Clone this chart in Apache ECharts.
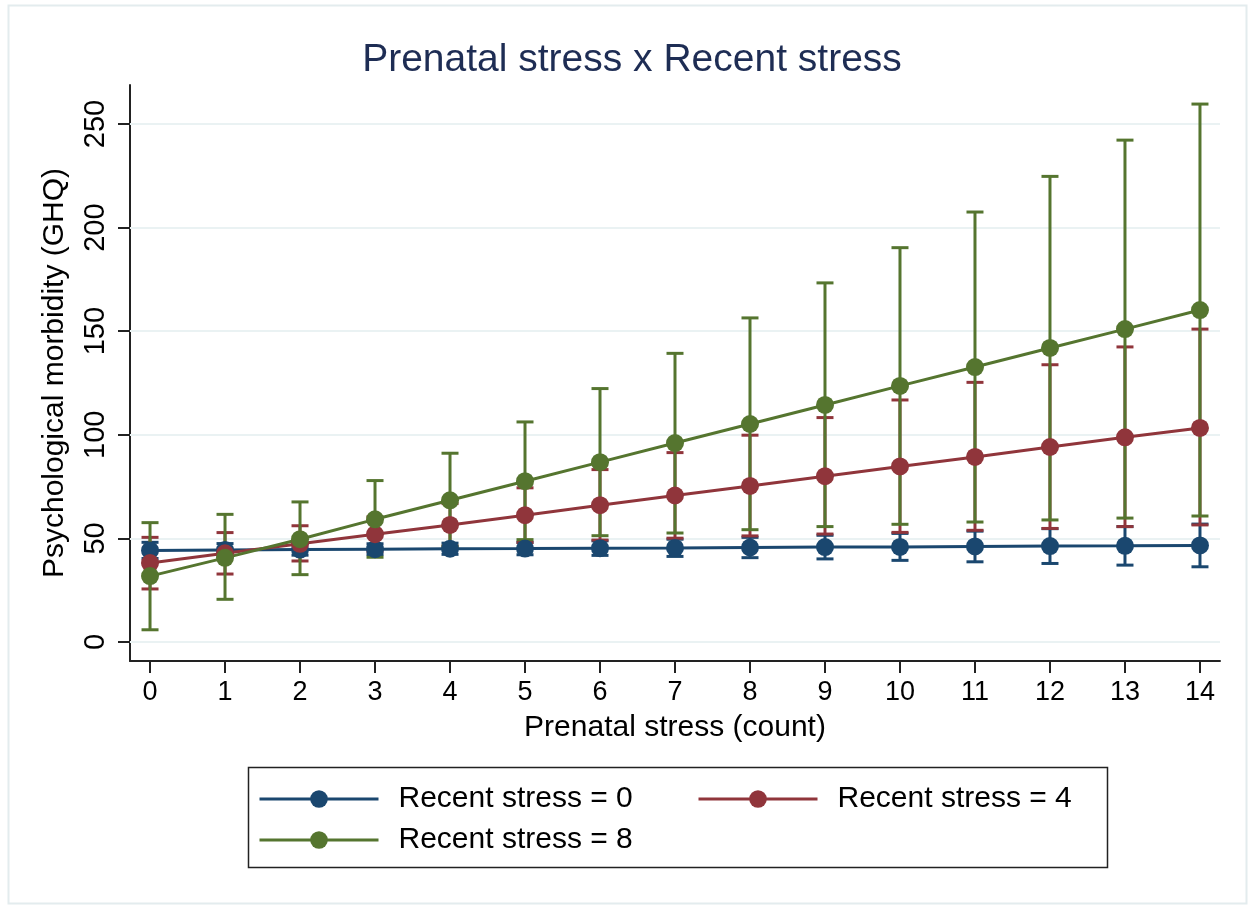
<!DOCTYPE html>
<html>
<head>
<meta charset="utf-8">
<script src="https://cdn.jsdelivr.net/npm/echarts@6/dist/echarts.min.js"></script>
<style>
  html, body { margin: 0; padding: 0; background: #fff; }
  #chart { width: 1249px; height: 905px; }
</style>
</head>
<body>
<div id="chart"></div>
<script>
// prenatal stress count (x axis)
const prenatal = [0, 1, 2, 3, 4, 5, 6, 7, 8, 9, 10, 11, 12, 13, 14];
const yTicks = [0, 50, 100, 150, 200, 250];

// recent stress = 0
const mean0 = [44.2, 44.4, 44.6, 44.8, 45.0, 45.1, 45.3, 45.4, 45.6, 45.8, 45.9, 46.1, 46.3, 46.4, 46.6];
const lo0 = [40.3, 41.3, 41.9, 42.2, 42.3, 42.1, 41.8, 41.3, 40.7, 40.1, 39.4, 38.7, 37.9, 37.1, 36.3];
const hi0 = [48.1, 47.5, 47.3, 47.4, 47.7, 48.1, 48.8, 49.6, 50.5, 51.5, 52.4, 53.5, 54.7, 55.7, 56.9];

// recent stress = 4
const mean4 = [38.1, 42.8, 47.4, 52.0, 56.5, 61.2, 66.0, 70.7, 75.3, 80.0, 84.7, 89.3, 94.1, 98.8, 103.3];
const lo4 = [25.6, 32.8, 39.1, 43.7, 46.3, 48.0, 49.2, 50.1, 51.2, 52.1, 52.9, 53.9, 54.8, 55.7, 56.5];
const hi4 = [50.5, 52.8, 56.1, 60.4, 66.8, 74.4, 83.2, 91.4, 99.8, 108.3, 116.8, 125.3, 133.8, 142.4, 151.0];

// recent stress = 8
const mean8 = [31.8, 40.6, 49.6, 59.2, 68.4, 77.6, 86.8, 96.0, 105.2, 114.4, 123.6, 132.7, 141.9, 151.0, 160.2];
const lo8 = [5.9, 20.6, 32.5, 40.9, 46.2, 49.4, 51.3, 52.6, 54.2, 55.7, 56.8, 57.9, 58.9, 59.8, 60.8];
const hi8 = [57.6, 61.6, 67.6, 77.9, 91.1, 106.2, 122.3, 139.3, 156.4, 173.3, 190.3, 207.5, 224.7, 242.2, 259.6];

const names = ["Recent stress = 0", "Recent stress = 4", "Recent stress = 8"];
const colors = ["#1a476f", "#90353b", "#55752f"];
const FONT = "Liberation Sans, Arial, Helvetica, sans-serif";

const chart = echarts.init(document.getElementById("chart"));

function capItem(color) {
  return function (params, api) {
    const x = api.value(0);
    const top = api.coord([x, api.value(2)]);
    const bot = api.coord([x, api.value(1)]);
    const hw = 8.5;
    const style = { stroke: color, lineWidth: 3 };
    return {
      type: "group",
      children: [
        { type: "line", shape: { x1: top[0], y1: top[1], x2: bot[0], y2: bot[1] }, style: style },
        { type: "line", shape: { x1: top[0] - hw, y1: top[1], x2: top[0] + hw, y2: top[1] }, style: style },
        { type: "line", shape: { x1: bot[0] - hw, y1: bot[1], x2: bot[0] + hw, y2: bot[1] }, style: style },
      ],
    };
  };
}

function ciSeries(lo, hi, idx) {
  return {
    type: "custom",
    z: 2,
    silent: true,
    renderItem: capItem(colors[idx]),
    encode: { x: 0, y: [1, 2] },
    data: prenatal.map((x, i) => [x, lo[i], hi[i]]),
  };
}

function lineSeries(mean, idx) {
  return {
    name: names[idx],
    type: "line",
    z: 3,
    color: colors[idx],
    symbol: "circle",
    symbolSize: 18,
    lineStyle: { width: 3, color: colors[idx] },
    itemStyle: { color: colors[idx] },
    data: prenatal.map((x, i) => [x, mean[i]]),
  };
}

const gridSeries = ciSeries(lo0, hi0, 0);
gridSeries.markLine = {
  silent: true,
  symbol: "none",
  label: { show: false },
  lineStyle: { color: "#eaf2f3", width: 2, type: "solid" },
  z: 1,
  data: yTicks.map((v) => ({ yAxis: v })),
};

const legendText = { fontSize: 30, fontFamily: FONT, color: "#000", lineHeight: 30, padding: [0, 0, 0, 15] };

const option = {
  backgroundColor: "#fff",
  animation: false,
  textStyle: { fontFamily: FONT },
  title: {
    text: "Prenatal stress x Recent stress",
    left: 627,
    textAlign: "center",
    top: 36,
    textStyle: { fontSize: 39, fontWeight: "normal", color: "#1e2d54", fontFamily: FONT },
  },
  grid: { left: 130, right: 29, top: 85, bottom: 244 },
  legend: [
    {
      data: [names[0], names[2]],
      orient: "vertical",
      left: 258,
      top: 784,
      padding: 0,
      itemWidth: 119,
      itemHeight: 22,
      itemGap: 11,
      lineStyle: { width: 3 },
      textStyle: legendText,
    },
    {
      data: [names[1]],
      orient: "vertical",
      left: 697,
      top: 784,
      padding: 0,
      itemWidth: 119,
      itemHeight: 22,
      lineStyle: { width: 3 },
      textStyle: legendText,
    },
  ],
  graphic: [
    {
      type: "rect",
      left: 6,
      top: 3,
      shape: { width: 1238, height: 898 },
      style: { fill: "none", stroke: "#e3ecee", lineWidth: 2 },
      silent: true,
    },
    {
      type: "rect",
      left: 246,
      top: 765,
      shape: { width: 859, height: 100 },
      style: { fill: "none", stroke: "#222", lineWidth: 1.5 },
      silent: true,
    },
  ],
  xAxis: {
    type: "value",
    min: -0.267,
    max: 14.267,
    name: "Prenatal stress (count)",
    nameLocation: "middle",
    nameGap: 52,
    nameTextStyle: { fontSize: 30, color: "#000", fontFamily: FONT },
    axisLine: { show: true, onZero: false, lineStyle: { color: "#222", width: 2 } },
    axisTick: { show: true, length: 12, customValues: prenatal, lineStyle: { color: "#222", width: 2 } },
    axisLabel: { customValues: prenatal, margin: 18, fontSize: 27, color: "#000", fontFamily: FONT },
    splitLine: { show: false },
  },
  yAxis: {
    type: "value",
    min: -9.17,
    max: 268.8,
    name: "Psychological morbidity (GHQ)",
    nameLocation: "middle",
    nameGap: 60,
    nameTextStyle: { fontSize: 30, color: "#000", fontFamily: FONT },
    axisLine: { show: true, onZero: false, lineStyle: { color: "#222", width: 2 } },
    axisTick: { show: true, length: 12, customValues: yTicks, lineStyle: { color: "#222", width: 2 } },
    axisLabel: { customValues: yTicks, rotate: 90, margin: 20, fontSize: 29, color: "#000", fontFamily: FONT },
    splitLine: { show: false },
  },
  series: [
    gridSeries,
    ciSeries(lo4, hi4, 1),
    ciSeries(lo8, hi8, 2),
    lineSeries(mean0, 0),
    lineSeries(mean4, 1),
    lineSeries(mean8, 2),
  ],
};

chart.setOption(option);
</script>
</body>
</html>
